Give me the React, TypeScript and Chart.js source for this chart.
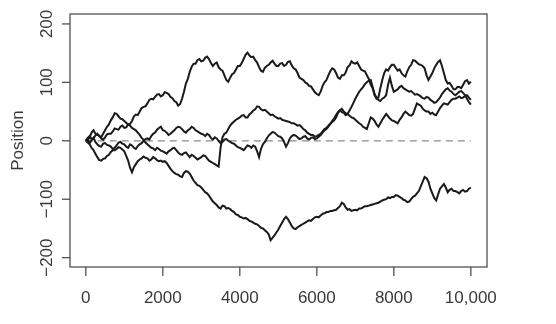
import React, { useEffect, useRef } from 'react';
import { Chart, registerables } from 'chart.js';

Chart.register(...registerables);

const steps = [
  0, 50, 100, 150, 200, 250, 300, 350, 400, 450, 500, 550, 600, 650, 700, 750, 800, 850, 900, 950,
  1000, 1050, 1100, 1150, 1200, 1250, 1300, 1350, 1400, 1450, 1500, 1550, 1600, 1650, 1700, 1750, 1800, 1850, 1900, 1950,
  2000, 2050, 2100, 2150, 2200, 2250, 2300, 2350, 2400, 2450, 2500, 2550, 2600, 2650, 2700, 2750, 2800, 2850, 2900, 2950,
  3000, 3050, 3100, 3150, 3200, 3250, 3300, 3350, 3400, 3450, 3500, 3550, 3600, 3650, 3700, 3750, 3800, 3850, 3900, 3950,
  4000, 4050, 4100, 4150, 4200, 4250, 4300, 4350, 4400, 4450, 4500, 4550, 4600, 4650, 4700, 4750, 4800, 4850, 4900, 4950,
  5000, 5050, 5100, 5150, 5200, 5250, 5300, 5350, 5400, 5450, 5500, 5550, 5600, 5650, 5700, 5750, 5800, 5850, 5900, 5950,
  6000, 6050, 6100, 6150, 6200, 6250, 6300, 6350, 6400, 6450, 6500, 6550, 6600, 6650, 6700, 6750, 6800, 6850, 6900, 6950,
  7000, 7050, 7100, 7150, 7200, 7250, 7300, 7350, 7400, 7450, 7500, 7550, 7600, 7650, 7700, 7750, 7800, 7850, 7900, 7950,
  8000, 8050, 8100, 8150, 8200, 8250, 8300, 8350, 8400, 8450, 8500, 8550, 8600, 8650, 8700, 8750, 8800, 8850, 8900, 8950,
  9000, 9050, 9100, 9150, 9200, 9250, 9300, 9350, 9400, 9450, 9500, 9550, 9600, 9650, 9700, 9750, 9800, 9850, 9900, 9950,
  10000,
];

const walkA = [
  0, 1, 6, 14, 18, 12, 10, 9, 4, 2, 6, 11, 12, 12, 16, 21, 20, 19, 24, 26,
  22, 23, 28, 29, 34, 42, 45, 44, 50, 56, 58, 59, 64, 70, 72, 71, 75, 79, 80, 76,
  78, 83, 82, 80, 75, 73, 68, 66, 60, 63, 72, 84, 98, 106, 118, 127, 132, 132, 138, 140,
  136, 137, 142, 144, 140, 133, 128, 132, 134, 126, 122, 120, 112, 104, 101, 108, 114, 116, 122, 128,
  128, 133, 140, 147, 151, 146, 143, 144, 138, 134, 126, 120, 118, 125, 128, 130, 134, 137, 132, 128,
  128, 132, 133, 128, 130, 135, 136, 129, 124, 122, 116, 108, 106, 104, 100, 98, 94, 93, 88, 83,
  80, 78, 84, 94, 100, 104, 112, 119, 124, 122, 116, 108, 106, 112, 112, 117, 126, 129, 136, 133,
  132, 134, 128, 122, 120, 119, 112, 106, 96, 90, 78, 72, 74, 90, 104, 116, 122, 120, 126, 130,
  130, 125, 120, 122, 116, 112, 110, 119, 126, 130, 138, 137, 134, 131, 130, 128, 124, 112, 104, 110,
  116, 124, 130, 135, 138, 128, 116, 104, 98, 99, 94, 88, 88, 92, 92, 90, 96, 102, 104, 98,
  101,
];

const walkB = [
  0, 3, -4, 1, 5, -2, -6, -9, -10, -5, -4, -7, -8, -10, -14, -12, -8, -3, -2, -5,
  -6, -10, -12, -6, -8, -12, -14, -9, -6, -4, 0, 3, 4, 2, 8, 12, 14, 19, 22, 24,
  18, 17, 14, 10, 12, 15, 18, 22, 24, 23, 20, 16, 14, 18, 20, 24, 22, 18, 16, 14,
  12, 11, 8, 12, 10, 5, 2, 6, 4, 0, -4, -2, 2, 3, 0, -2, -4, -5, -8, -11,
  -12, -14, -16, -12, -8, -9, -12, -8, -10, -18, -28, -14, -6, -2, 4, 9, 12, 15, 14, 11,
  8, 7, 4, -2, -10, -4, 4, 8, 10, 9, 6, 3, 4, 7, 8, 4, 2, 5, 6, 3,
  4, 7, 10, 14, 18, 20, 24, 29, 34, 38, 44, 49, 52, 49, 48, 44, 46, 52, 58, 65,
  72, 78, 84, 88, 92, 97, 100, 103, 104, 92, 80, 74, 70, 68, 72, 74, 78, 96, 108, 94,
  84, 86, 88, 92, 94, 90, 88, 86, 84, 85, 82, 79, 80, 78, 76, 73, 72, 75, 74, 70,
  68, 65, 66, 70, 74, 80, 84, 88, 90, 86, 84, 80, 78, 81, 84, 85, 82, 78, 72, 66,
  62,
];

const walkC = [
  0, 5, 8, 3, 4, 9, 12, 8, 6, 12, 18, 24, 28, 35, 40, 47, 46, 42, 38, 37,
  34, 31, 28, 26, 22, 20, 18, 14, 10, 5, 2, -3, -6, -9, -12, -13, -16, -12, -14, -17,
  -18, -20, -22, -18, -16, -13, -12, -16, -20, -23, -24, -21, -20, -24, -28, -24, -26, -29, -32, -30,
  -28, -25, -26, -30, -34, -36, -38, -40, -42, -44, -12, 6, 12, 14, 20, 26, 30, 33, 36, 38,
  40, 43, 44, 40, 40, 45, 48, 52, 54, 59, 58, 54, 52, 53, 50, 47, 44, 45, 42, 40,
  38, 39, 36, 35, 34, 33, 32, 30, 30, 28, 26, 27, 24, 20, 18, 14, 12, 10, 10, 7,
  8, 10, 12, 16, 20, 22, 26, 29, 32, 35, 40, 48, 52, 55, 50, 47, 46, 43, 40, 39,
  36, 33, 30, 28, 24, 22, 20, 30, 40, 38, 34, 28, 24, 30, 36, 41, 46, 42, 38, 35,
  34, 32, 30, 36, 40, 46, 50, 47, 44, 43, 46, 55, 64, 62, 60, 55, 52, 50, 50, 46,
  48, 45, 44, 50, 56, 60, 64, 63, 62, 66, 70, 72, 72, 74, 76, 73, 74, 77, 78, 74,
  70,
];

const walkD = [
  0, -3, -6, -12, -16, -22, -28, -33, -34, -31, -30, -26, -24, -19, -16, -16, -14, -11, -12, -15,
  -18, -26, -34, -46, -54, -45, -40, -35, -32, -30, -27, -29, -30, -34, -32, -28, -30, -33, -35, -34,
  -36, -35, -38, -43, -48, -52, -55, -57, -58, -61, -62, -55, -52, -53, -56, -62, -68, -72, -76, -77,
  -80, -84, -88, -90, -94, -99, -104, -107, -110, -114, -116, -111, -112, -116, -115, -117, -120, -122, -126, -127,
  -130, -131, -133, -132, -134, -137, -138, -140, -142, -143, -146, -149, -150, -153, -156, -160, -170, -166, -162, -157,
  -152, -146, -140, -134, -130, -134, -140, -146, -150, -151, -148, -146, -144, -142, -140, -138, -136, -137, -134, -131,
  -130, -131, -128, -125, -124, -122, -122, -120, -120, -119, -118, -115, -112, -106, -108, -114, -118, -117, -120, -119,
  -118, -119, -116, -116, -114, -112, -112, -111, -110, -109, -108, -107, -106, -104, -102, -101, -100, -97, -98, -96,
  -96, -93, -94, -96, -98, -101, -102, -105, -104, -100, -96, -94, -90, -86, -78, -70, -62, -64, -70, -82,
  -90, -98, -102, -92, -82, -78, -74, -80, -88, -84, -82, -86, -86, -88, -90, -86, -84, -87, -86, -82,
  -80,
];

const zeroLineX = [0, 10000];
const zeroLineY = [0, 0];

const xTicks = [0, 2000, 4000, 6000, 8000, 10000];
const xTickLabels = ['0', '2000', '4000', '6000', '8000', '10,000'];
const yTicks = [-200, -100, 0, 100, 200];
const yTickLabels = ['\u2212200', '\u2212100', '0', '100', '200'];
const yTitle = 'Position';

export default function App() {
  const ref = useRef<HTMLCanvasElement>(null);

  useEffect(() => {
    if (!ref.current) return;
    const toPts = (arr: number[]) => arr.map((v, i) => ({ x: steps[i], y: v }));
    const font = '17px "Liberation Sans", Arial, sans-serif';

    const frame = {
      id: 'frame',
      afterDraw(chart: any) {
        const { ctx, chartArea: a, scales } = chart;
        const xs = scales.x;
        const ys = scales.y;
        ctx.save();
        ctx.strokeStyle = '#505050';
        ctx.lineWidth = 1.3;
        ctx.strokeRect(a.left, a.top, a.right - a.left, a.bottom - a.top);
        ctx.font = font;
        ctx.fillStyle = '#3a3a3a';
        ctx.textAlign = 'center';
        ctx.textBaseline = 'middle';
        xTicks.forEach((v, i) => {
          const px = xs.getPixelForValue(v);
          ctx.beginPath();
          ctx.moveTo(px, a.bottom);
          ctx.lineTo(px, a.bottom + 9);
          ctx.stroke();
          ctx.fillText(xTickLabels[i], px, 298);
        });
        yTicks.forEach((v, i) => {
          const py = ys.getPixelForValue(v);
          ctx.beginPath();
          ctx.moveTo(a.left, py);
          ctx.lineTo(a.left - 8, py);
          ctx.stroke();
          ctx.save();
          ctx.translate(47, py);
          ctx.rotate(-Math.PI / 2);
          ctx.fillText(yTickLabels[i], 0, 0);
          ctx.restore();
        });
        ctx.save();
        ctx.translate(18, (a.top + a.bottom) / 2);
        ctx.rotate(-Math.PI / 2);
        ctx.fillText(yTitle, 0, 0);
        ctx.restore();
        ctx.restore();
      },
    };

    const walkStyle = {
      borderColor: '#1a1a1a',
      borderWidth: 2,
      pointRadius: 0,
      tension: 0,
      fill: false,
    };

    const chart = new Chart(ref.current, {
      type: 'line',
      data: {
        datasets: [
          { ...walkStyle, data: toPts(walkA) },
          { ...walkStyle, data: toPts(walkB) },
          { ...walkStyle, data: toPts(walkC) },
          { ...walkStyle, data: toPts(walkD) },
          {
            data: zeroLineX.map((x, i) => ({ x, y: zeroLineY[i] })),
            borderColor: '#8a8a8a',
            borderWidth: 1.2,
            borderDash: [7, 5],
            pointRadius: 0,
            fill: false,
          },
        ],
      },
      options: {
        animation: false,
        responsive: false,
        maintainAspectRatio: false,
        events: [],
        layout: { padding: { left: 70, top: 14, right: 69, bottom: 57 } },
        plugins: { legend: { display: false }, tooltip: { enabled: false } },
        scales: {
          x: { type: 'linear', min: -410, max: 10420, display: false },
          y: { type: 'linear', min: -216, max: 217, display: false },
        },
      },
      plugins: [frame],
    });
    return () => chart.destroy();
  }, []);

  return (
    <div style={{ position: 'fixed', left: 0, top: 0, width: 556, height: 324, background: '#fff' }}>
      <canvas ref={ref} width={556} height={324} style={{ display: 'block' }} />
    </div>
  );
}
